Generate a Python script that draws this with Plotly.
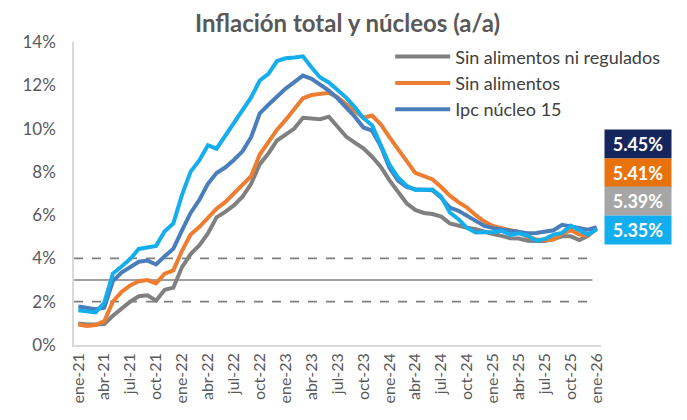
import plotly.graph_objects as go

months = ["ene", "feb", "mar", "abr", "may", "jun", "jul", "ago", "sep", "oct", "nov", "dic"]
periods = [f"{m}-{y}" for y in range(21, 26) for m in months] + ["ene-26"]
tick_labels = periods[::3]

total = [1.60, 1.56, 1.51, 1.95, 3.30, 3.63, 3.97, 4.44, 4.51, 4.58, 5.26, 5.62,
         6.94, 8.01, 8.53, 9.23, 9.07, 9.67, 10.21, 10.84, 11.44, 12.22, 12.53, 13.12,
         13.25, 13.28, 13.34, 12.82, 12.36, 12.13, 11.78, 11.43, 10.99, 10.48, 10.15, 9.28,
         8.35, 7.74, 7.36, 7.16, 7.16, 7.18, 6.86, 6.12, 5.81, 5.41, 5.20, 5.20,
         5.22, 5.28, 5.09, 5.16, 5.05, 4.82, 4.90, 5.10, 5.18, 5.51, 5.30, 5.10,
         5.35]

sin_alim_ni_reg = [1.00, 0.95, 0.95, 0.97, 1.35, 1.70, 2.00, 2.25, 2.30, 2.05, 2.55, 2.65,
                   3.60, 4.20, 4.60, 5.15, 5.90, 6.15, 6.45, 6.85, 7.45, 8.35, 8.85, 9.45,
                   9.70, 10.00, 10.50, 10.46, 10.43, 10.55, 10.06, 9.63, 9.35, 9.09, 8.70, 8.24,
                   7.62, 7.09, 6.55, 6.24, 6.10, 6.05, 5.93, 5.62, 5.51, 5.42, 5.35, 5.22,
                   5.13, 5.04, 4.93, 4.92, 4.82, 4.80, 4.80, 4.90, 5.02, 5.02, 4.85, 5.05,
                   5.39]

sin_alim = [0.95, 0.88, 0.92, 1.10, 2.00, 2.45, 2.75, 2.95, 3.00, 2.85, 3.30, 3.45,
            4.35, 5.10, 5.45, 5.90, 6.30, 6.60, 7.00, 7.35, 7.80, 8.80, 9.40, 9.95,
            10.40, 10.90, 11.40, 11.55, 11.60, 11.65, 11.45, 11.15, 10.85, 10.50, 10.60, 10.20,
            9.60, 9.05, 8.45, 7.95, 7.80, 7.65, 7.30, 6.90, 6.60, 6.35, 6.00, 5.70,
            5.50, 5.38, 5.30, 5.22, 5.00, 4.88, 4.85, 4.87, 5.15, 5.30, 5.10, 5.05,
            5.41]

nucleo15 = [1.78, 1.72, 1.65, 1.72, 2.95, 3.35, 3.60, 3.85, 3.90, 3.72, 4.10, 4.45,
            5.30, 6.10, 6.70, 7.45, 7.95, 8.20, 8.55, 8.95, 9.60, 10.70, 11.10, 11.50,
            11.85, 12.15, 12.45, 12.30, 12.05, 11.75, 11.40, 11.00, 10.55, 10.05, 9.90, 9.20,
            8.20, 7.60, 7.30, 7.20, 7.18, 7.15, 6.80, 6.35, 6.20, 5.95, 5.75, 5.50,
            5.40, 5.35, 5.28, 5.25, 5.16, 5.18, 5.22, 5.30, 5.55, 5.48, 5.40, 5.33,
            5.45]

target = 3.0
band_low, band_high = 2.0, 4.0

end_labels = ["5.45%", "5.41%", "5.39%", "5.35%"]
end_colors = ["#16265C", "#E8720C", "#A6A6A6", "#12AEEF"]

C_GRAY = "#808080"
C_ORANGE = "#ED7D31"
C_STEEL = "#4A7EBB"
C_CYAN = "#14AEEC"

fig = go.Figure()
fig.add_trace(go.Scatter(x=periods, y=sin_alim_ni_reg, mode="lines", name="Sin alimentos ni regulados",
                         line=dict(color=C_GRAY, width=4)))
fig.add_trace(go.Scatter(x=periods, y=sin_alim, mode="lines", name="Sin alimentos",
                         line=dict(color=C_ORANGE, width=4)))
fig.add_trace(go.Scatter(x=periods, y=nucleo15, mode="lines", name="Ipc núcleo 15",
                         line=dict(color=C_STEEL, width=4)))
fig.add_trace(go.Scatter(x=periods, y=total, mode="lines", name="Total",
                         line=dict(color=C_CYAN, width=4), showlegend=False))

for yv, dash, w in [(band_high, "dash", 1.8), (band_low, "dash", 1.8), (target, "solid", 1.5)]:
    fig.add_shape(type="line", xref="x", yref="y", x0=-0.5, x1=59.5, y0=yv, y1=yv,
                  line=dict(color="#7F7F7F", width=w, dash=dash), layer="below")

box_y = [0.663, 0.567, 0.475, 0.379]
for txt, col, yy in zip(end_labels, end_colors, box_y):
    fig.add_annotation(xref="paper", yref="paper", x=1.07, y=yy, text=f"<b>{txt}</b>",
                       showarrow=False, bgcolor=col, width=62, height=24, borderpad=2,
                       font=dict(family="Lato", size=18, color="white"),
                       xanchor="center", yanchor="middle")

# the page adds an 8px body margin, so the figure is 8px smaller and shifted
fig.update_layout(
    width=679, height=412,
    margin=dict(l=66, r=86, t=34, b=75),
    paper_bgcolor="white", plot_bgcolor="white",
    title=dict(text="<b>Inflación total y núcleos (a/a)</b>", x=0.5, xanchor="center",
               y=0.961, yanchor="middle",
               font=dict(family="Lato", size=24, color="#595959")),
    font=dict(family="Lato", color="#595959"),
    legend=dict(x=0.6, y=1.012, xanchor="left", yanchor="top",
                font=dict(family="Lato", size=18, color="#404040"),
                bgcolor="rgba(0,0,0,0)", tracegroupgap=0, itemwidth=55),
    showlegend=True,
)
fig.update_xaxes(type="category", categoryorder="array", categoryarray=periods,
                 tickmode="array", tickvals=tick_labels, ticktext=tick_labels,
                 tickangle=-90, tickfont=dict(family="Lato", size=16, color="#595959"),
                 showgrid=False, showline=True, linecolor="#D9D9D9", linewidth=1.5,
                 ticks="", range=[-0.5, 60.5])
fig.update_yaxes(range=[0, 14], tickvals=[0, 2, 4, 6, 8, 10, 12, 14],
                 ticktext=["0%", "2%", "4%", "6%", "8%", "10%", "12%", "14%"],
                 tickfont=dict(family="Lato", size=17, color="#595959"),
                 showgrid=False, zeroline=False, showline=True, linecolor="#D9D9D9",
                 linewidth=1.5, ticks="", ticklabelstandoff=13)

fig.write_html("out.html")
